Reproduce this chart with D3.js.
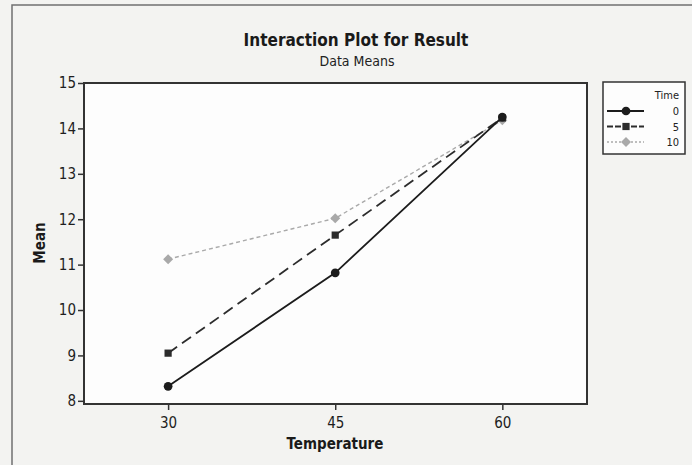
<!DOCTYPE html>
<html>
<head>
<meta charset="utf-8">
<script src="https://cdn.jsdelivr.net/npm/d3@7"></script>
<style>
  html, body { margin: 0; padding: 0; background: #f3f3f1; }
  svg { display: block; font-family: "DejaVu Sans Condensed", "DejaVu Sans", sans-serif; }
</style>
</head>
<body>
<div id="chart"></div>
<script>
// interaction plot data (means)
var temperatures = [30, 45, 60];
var timeLevels = ['0', '5', '10'];
var time0 = [8.32, 10.82, 14.25];
var time5 = [9.05, 11.65, 14.23];
var time10 = [11.12, 12.02, 14.18];
var yTicks = [8, 9, 10, 11, 12, 13, 14, 15];

// rotated square for the third level
var symbolTilted = {
  draw: function(context, size)
  {
    var r = Math.sqrt(size / 2);
    context.moveTo(0, -r);
    context.lineTo(r, 0);
    context.lineTo(0, r);
    context.lineTo(-r, 0);
    context.closePath();
  }
};

var series = [
  { name: timeLevels[0], values: time0, color: '#1c1c1c', dash: null, legendDash: null, symbol: d3.symbolCircle, size: 60, width: 1.8 },
  { name: timeLevels[1], values: time5, color: '#2c2c2c', dash: '11,6', legendDash: '6,2', symbol: d3.symbolSquare, size: 52, width: 1.8 },
  { name: timeLevels[2], values: time10, color: '#a9a9a9', dash: '4,3', legendDash: '2,2', symbol: symbolTilted, size: 50, width: 1.4 }
];

var W = 692, H = 465;
var plot = { left: 84, top: 83, right: 587, bottom: 404 };

var svg = d3.select('#chart')
  .append('svg')
    .attr('width', W)
    .attr('height', H);

// page frame
svg.append('rect')
  .attr('x', 0).attr('y', 0)
  .attr('width', W).attr('height', H)
  .attr('fill', '#f3f3f1');

svg.append('path')
  .attr('d', 'M12,' + H + 'V5H' + W)
  .attr('fill', 'none')
  .attr('stroke', '#707070')
  .attr('stroke-width', 1.5);

// scales
var x = d3.scaleLinear()
  .domain([22.45, 67.6])
  .range([plot.left, plot.right]);

var y = d3.scaleLinear()
  .domain([7.93, 15])
  .range([plot.bottom, plot.top]);

// plot area
svg.append('rect')
  .attr('x', plot.left)
  .attr('y', plot.top)
  .attr('width', plot.right - plot.left)
  .attr('height', plot.bottom - plot.top)
  .attr('fill', '#fdfdfd')
  .attr('stroke', '#333')
  .attr('stroke-width', 2);

// axes
var yAxis = svg.append('g')
  .attr('transform', 'translate(' + plot.left + ',0)')
  .call(d3.axisLeft(y).tickValues(yTicks).tickSize(6).tickPadding(2).tickFormat(d3.format('d')));

var xAxis = svg.append('g')
  .attr('transform', 'translate(0,' + plot.bottom + ')')
  .call(d3.axisBottom(x).tickValues(temperatures).tickSize(6).tickPadding(7).tickFormat(d3.format('d')));

[yAxis, xAxis].forEach(function(g)
{
  g.select('.domain').remove();
  g.selectAll('.tick line').attr('stroke', '#333').attr('stroke-width', 1.5);
  g.selectAll('.tick text')
    .attr('fill', '#1e1e1e')
    .attr('font-size', 15)
    .attr('font-family', '"DejaVu Sans Condensed", "DejaVu Sans", sans-serif');
});

// lines + symbols
var line = d3.line()
  .x(function(d, i) { return x(temperatures[i]); })
  .y(function(d) { return y(d); });

series.slice().reverse().forEach(function(s)
{
  svg.append('path')
    .datum(s.values)
    .attr('d', line)
    .attr('fill', 'none')
    .attr('stroke', s.color)
    .attr('stroke-width', s.width)
    .attr('stroke-dasharray', s.dash);

  svg.selectAll(null)
    .data(s.values)
    .enter()
      .append('path')
      .attr('transform', function(d, i) { return 'translate(' + x(temperatures[i]) + ',' + y(d) + ')'; })
      .attr('d', d3.symbol().type(s.symbol).size(s.size))
      .attr('fill', s.color);
});

// titles
svg.append('text')
  .attr('x', 356).attr('y', 46)
  .attr('text-anchor', 'middle')
  .style('font-size', '17px')
  .style('font-weight', 'bold')
  .attr('fill', '#1a1a1a')
  .text('Interaction Plot for Result');

svg.append('text')
  .attr('x', 357).attr('y', 66)
  .attr('text-anchor', 'middle')
  .style('font-size', '14px')
  .attr('fill', '#222')
  .text('Data Means');

svg.append('text')
  .attr('x', 335).attr('y', 449)
  .attr('text-anchor', 'middle')
  .style('font-size', '15px')
  .style('font-weight', 'bold')
  .attr('fill', '#1a1a1a')
  .text('Temperature');

svg.append('text')
  .attr('transform', 'translate(45,243) rotate(-90)')
  .attr('text-anchor', 'middle')
  .style('font-size', '15px')
  .style('font-weight', 'bold')
  .attr('fill', '#1a1a1a')
  .text('Mean');

// legend
var legend = svg.append('g');
legend.append('rect')
  .attr('x', 603).attr('y', 82)
  .attr('width', 82).attr('height', 72)
  .attr('fill', '#fdfdfd')
  .attr('stroke', '#333')
  .attr('stroke-width', 1.5);

legend.append('text')
  .attr('x', 679).attr('y', 99)
  .attr('text-anchor', 'end')
  .style('font-size', '11px')
  .attr('fill', '#222')
  .text('Time');

var rows = legend.selectAll('g.row')
  .data(series)
  .enter()
    .append('g')
    .attr('class', 'row')
    .attr('transform', function(d, i) { return 'translate(0,' + (111 + i * 15.5) + ')'; });

rows.append('line')
  .attr('x1', 607).attr('x2', 644)
  .attr('stroke', function(d) { return d.color; })
  .attr('stroke-width', function(d) { return d.width; })
  .attr('stroke-dasharray', function(d) { return d.legendDash; });

rows.append('path')
  .attr('transform', 'translate(626,0)')
  .attr('d', function(d) { return d3.symbol().type(d.symbol).size(d.size)(); })
  .attr('fill', function(d) { return d.color; });

rows.append('text')
  .attr('x', 679).attr('y', 4)
  .attr('text-anchor', 'end')
  .style('font-size', '11px')
  .attr('fill', '#222')
  .text(function(d) { return d.name; });
</script>
</body>
</html>
